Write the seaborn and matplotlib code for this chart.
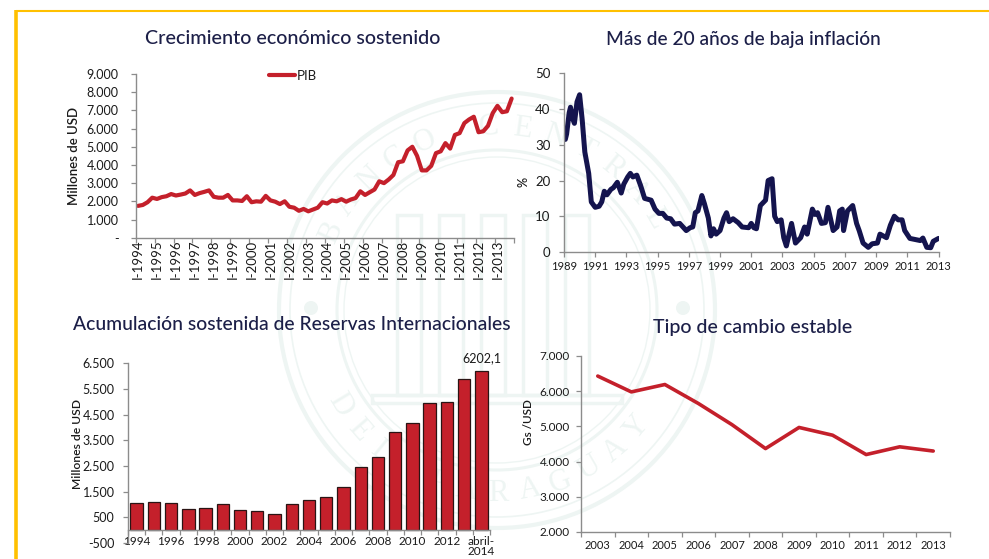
import matplotlib
matplotlib.use("Agg")
import numpy as np
import pandas as pd
import seaborn as sns
import matplotlib.pyplot as plt
from matplotlib.patches import Circle, Rectangle

W, H = 989, 559
sns.set_theme(style="white")
plt.rcParams['font.family'] = ['Lato', 'DejaVu Sans']
plt.rcParams['axes.unicode_minus'] = False

RED = '#c4202b'
NAVY = '#14144e'
AXC = '#8c8c8c'
TXT = '#1a1a1a'
SEAL = '#eef5f3'

titles = ["Crecimiento económico sostenido", "Más de 20 años de baja inflación",
          "Acumulación sostenida de Reservas Internacionales", "Tipo de cambio estable"]

pib = [1750,1800,1950,2200, 2130,2230,2280,2400, 2320,2370,2430,2600,
       2350,2450,2520,2600, 2250,2200,2200,2350, 2050,2050,2020,2280,
       1950,2000,1980,2300, 2050,1980,1850,2000, 1700,1650,1480,1580,
       1450,1550,1650,1950, 1880,2050,2000,2120, 1980,2100,2180,2550,
       2350,2500,2650,3100, 3000,3200,3450,4150, 4200,4800,5000,4500,
       3700,3700,3950,4650, 4750,5200,4900,5650, 5750,6300,6500,6650,
       5800,5850,6150,6850, 7250,6900,6950,7650]
pib_labels = ["I-1994","I-1995","I-1996","I-1997","I-1998","I-1999","I-2000","I-2001","I-2002","I-2003",
              "I-2004","I-2005","I-2006","I-2007","I-2008","I-2009","I-2010","I-2011","I-2012","I-2013"]
pib_y = [0,1000,2000,3000,4000,5000,6000,7000,8000,9000]
pib_ylabels = ["-","1.000","2.000","3.000","4.000","5.000","6.000","7.000","8.000","9.000"]

inf_month = [1,2,4,5,7,8,10,12,14,16,19,21,24,27,29,31,33,36,38,41,44,46,49,51,53,56,59,62,67,70,73,76,79,82,85,
             89,92,94,97,99,101,103,106,108,111,113,115,117,120,123,125,127,130,134,137,142,144,146,148,151,155,
             157,160,162,164,167,169,171,175,178,182,185,187,191,193,195,198,201,203,207,210,212,214,215,218,222,
             225,227,230,234,237,241,243,248,251,254,257,260,262,266,270,274,276,279,282,284,288]
inf_val = [31.5,33,39,40.5,37,36,42,44,37,28,22,14,12.5,12.8,14,17,16,17.5,18,19.5,16.5,19,21,22,21,21.5,18.5,15,14.5,12,10.8,10.8,9.5,9.3,7.8,
           8,6.8,6,6.8,7,11,11.5,15.8,13.5,9.5,4.5,6.5,5,6,9.5,11,8.5,9.3,8.2,7,6.8,8,6.8,6.5,13,14.5,
           20,20.5,10,8.5,9,4,1.7,8,2.5,4,7,5,12,10.5,11,8,8.2,12.5,6,7,11.5,12,6,11.5,13,
           8,6,2.5,1.3,2.3,2.5,5,4,7.5,10,9,9,6,3.8,3.5,3.2,3.9,1.3,1.2,3,3.8]
inf_labels = ["1989","1991","1993","1995","1997","1999","2001","2003","2005","2007","2009","2011","2013"]
inf_y = [0,10,20,30,40,50]

res_years = ["1994","1995","1996","1997","1998","1999","2000","2001","2002","2003","2004","2005","2006","2007",
             "2008","2009","2010","2011","2012","2013","abril-\n2014"]
res_val = [1040,1100,1040,840,870,1010,780,750,640,1010,1180,1300,1700,2460,2860,3840,4170,4970,5000,5870,6202.1]
res_y = [-500,500,1500,2500,3500,4500,5500,6500]
res_ylabels = ["-500","500","1.500","2.500","3.500","4.500","5.500","6.500"]
res_note = "6202,1"

tc_years = ["2003","2004","2005","2006","2007","2008","2009","2010","2011","2012","2013"]
tc_val = [6430,5980,6190,5650,5050,4370,4970,4750,4200,4420,4300]
tc_y = [2000,3000,4000,5000,6000,7000]
tc_ylabels = ["2.000","3.000","4.000","5.000","6.000","7.000"]

seal_top = "BANCO CENTRAL"
seal_bottom = "DEL PARAGUAY"


def px_axes(fig, left, right, top, bottom, **kw):
    return fig.add_axes([left / W, 1 - bottom / H, (right - left) / W, (bottom - top) / H], **kw)


def style(ax, size=9, pad=6):
    sns.despine(ax=ax)
    for s in ('left', 'bottom'):
        ax.spines[s].set_color(AXC)
        ax.spines[s].set_linewidth(1.0)
    ax.tick_params(axis='both', which='major', direction='out', length=3.7, width=0.9, color=AXC,
                   labelsize=size, labelcolor=TXT, pad=pad, left=True, bottom=True)
    ax.patch.set_alpha(0)


fig = plt.figure(figsize=(W / 100, H / 100), dpi=100, facecolor='white')

# watermark seal and frame, in pixel coordinates
bg = fig.add_axes([0, 0, 1, 1], zorder=-5)
bg.set_xlim(0, W); bg.set_ylim(H, 0); bg.axis('off')
cx, cy = 497, 310
for r, lw in [(218, 3), (207, 1.2), (160, 2.2), (153, 1.0)]:
    bg.add_patch(Circle((cx, cy), r, fill=False, ec=SEAL, lw=lw))
for dx in (-186, 186):
    bg.add_patch(Circle((cx + dx, cy - 2), 7, fill=True, fc=SEAL, ec='none'))
Rr = 183
for txt, a0, a1, sgn in [(seal_top, 155, 30, 1), (seal_bottom, 211, 320, -1)]:
    for ch, a in zip(txt, np.linspace(a0, a1, len(txt))):
        th = np.radians(a)
        bg.text(cx + Rr * np.cos(th), cy - Rr * np.sin(th), ch, color=SEAL, fontsize=22, family='Liberation Serif',
                rotation=a - 90 if sgn > 0 else a + 90, ha='center', va='center')
for i in range(5):
    bg.add_patch(Rectangle((cx - 100 + i * 42, cy - 95), 24, 180, fill=False, ec=SEAL, lw=2.5))
bg.add_patch(Rectangle((cx - 125, cy + 85), 250, 8, fill=False, ec=SEAL, lw=2.5))
bg.plot([16, 16], [10, H], color='#ffc000', lw=2.6, solid_capstyle='butt')
bg.plot([16, W], [10.5, 10.5], color='#ffc000', lw=1.5, solid_capstyle='butt')

# GDP
ax1 = px_axes(fig, 135.7, 514, 74, 237.7)
df1 = pd.DataFrame({'q': np.arange(len(pib)) + 0.5, 'v': pib})
sns.lineplot(data=df1, x='q', y='v', ax=ax1, color=RED, lw=3.0, label='PIB', errorbar=None)
ax1.set_xlim(0, 80); ax1.set_ylim(0, 9000)
style(ax1, 9, 8.5)
ax1.set_xticks(np.arange(0, 81, 4))
ax1.set_xticklabels([])
ax1.set_xticks(np.arange(len(pib_labels)) * 4 + 0.5, labels=pib_labels, minor=True, rotation=90, fontsize=9.5, color=TXT)
ax1.tick_params(axis='x', which='minor', length=0, pad=1.5)
ax1.set_yticks(pib_y, labels=pib_ylabels)
ax1.set_xlabel(''); ax1.set_ylabel('Millones de USD', fontsize=9.5, fontweight='semibold', color=TXT, labelpad=5)
ax1.legend(loc='upper left', bbox_to_anchor=(0.335, 1.065), frameon=False, fontsize=9.5, handlelength=2.0,
           handletextpad=0.1, borderpad=0, labelcolor=TXT)

# inflation
ax2 = px_axes(fig, 564, 938.5, 73.3, 252)
df2 = pd.DataFrame({'m': inf_month, 'v': inf_val})
sns.lineplot(data=df2, x='m', y='v', ax=ax2, color=NAVY, lw=3.6, errorbar=None)
ax2.set_xlim(0, 288); ax2.set_ylim(0, 50)
style(ax2, 9, 6)
ax2.set_xticks(np.arange(len(inf_labels)) * 24, labels=inf_labels, fontsize=8)
ax2.tick_params(axis='x', pad=3)
ax2.set_yticks(inf_y)
ax2.tick_params(axis='y', labelsize=9.5)
ax2.set_xlabel(''); ax2.set_ylabel('%', fontsize=9, fontweight='semibold', color=TXT, labelpad=4, y=0.39)

# reserves
ax3 = px_axes(fig, 128, 490, 363.3, 543)
df3 = pd.DataFrame({'y': res_years, 'v': res_val})
sns.barplot(data=df3, x='y', y='v', ax=ax3, color=RED, saturation=1, width=0.72, edgecolor='#2a1414', linewidth=0.9)
ax3.set_xlim(-0.5, 20.5); ax3.set_ylim(-500, 6500)
style(ax3, 9, 6)
ax3.spines['bottom'].set_position(('data', 0))
ax3.set_xticks(np.arange(0, 22) - 0.5, labels=[''] * 22)
ax3.set_xticks(np.arange(0, 21, 2), labels=res_years[::2], minor=True, fontsize=8.5, color=TXT)
ax3.tick_params(axis='x', which='minor', length=0, pad=4)
for t in ax3.get_xticklabels(minor=True):
    t.set_linespacing(0.95)
ax3.set_yticks(res_y, labels=res_ylabels)
ax3.set_xlabel(''); ax3.set_ylabel('Millones de USD', fontsize=8.7, fontweight='semibold', color=TXT, labelpad=-0.5, y=0.55)
ax3.text(20, res_val[-1] + 260, res_note, ha='center', va='bottom', fontsize=9, color=TXT, clip_on=False)

# exchange rate
ax4 = px_axes(fig, 581, 950, 356, 532)
df4 = pd.DataFrame({'y': tc_years, 'v': tc_val})
sns.lineplot(data=df4, x='y', y='v', ax=ax4, color=RED, lw=2.6, errorbar=None)
ax4.set_xlim(-0.5, 10.5); ax4.set_ylim(2000, 7000)
style(ax4, 8.5, 4.5)
ax4.set_xticks(np.arange(0, 12) - 0.5, labels=[''] * 12)
ax4.set_xticks(np.arange(0, 11), labels=tc_years, minor=True, fontsize=8, color=TXT)
ax4.tick_params(axis='x', which='minor', length=0, pad=6)
ax4.set_yticks(tc_y, labels=tc_ylabels)
ax4.set_xlabel(''); ax4.set_ylabel('Gs /USD', fontsize=8.5, fontweight='semibold', color=TXT, labelpad=4, y=0.625)

# titles
for t, x, y, s in zip(titles, [293, 743.5, 292, 753], [38, 39, 325, 327], [14.2, 13.8, 13.9, 14.1]):
    bg.text(x, y, t, ha='center', va='center', fontsize=s, color='#1c1f48', fontweight='medium')

fig.savefig('out.png', dpi=100)
